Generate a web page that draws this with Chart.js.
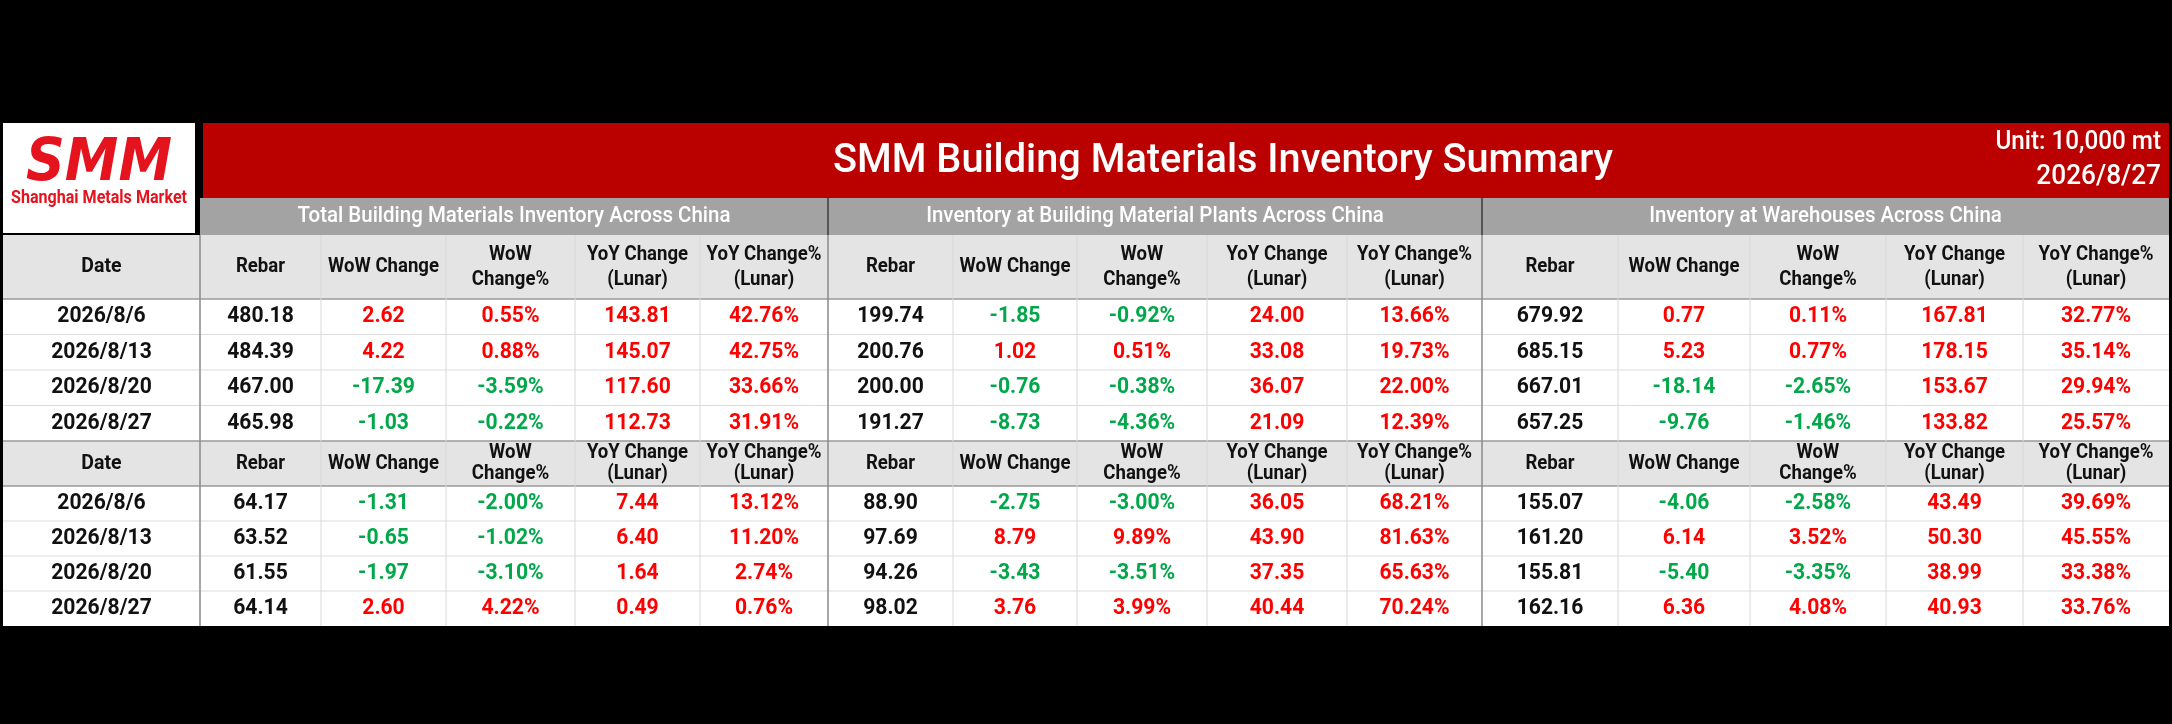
<!DOCTYPE html>
<html>
<head>
<meta charset="utf-8">
<script src="https://cdn.jsdelivr.net/npm/chart.js@4"></script>
<style>
  html, body { margin: 0; padding: 0; background: #000; }
  canvas { display: block; }
</style>
</head>
<body>
<canvas id="inv" width="2172" height="724"></canvas>
<script>
// table content
const title = "SMM Building Materials Inventory Summary";
const unitLabel = "Unit: 10,000 mt";
const reportDate = "2026/8/27";
const groups = [
  "Total Building Materials Inventory Across China",
  "Inventory at Building Material Plants Across China",
  "Inventory at Warehouses Across China"
];
const metrics = ["Rebar", "WoW Change", "WoW\nChange%", "YoY Change\n(Lunar)", "YoY Change%\n(Lunar)"];
const dates = ["2026/8/6", "2026/8/13", "2026/8/20", "2026/8/27"];

// upper block
const totalRebar   = [480.18, 484.39, 467.00, 465.98];
const totalWow     = [2.62, 4.22, -17.39, -1.03];
const totalWowPct  = [0.55, 0.88, -3.59, -0.22];
const totalYoy     = [143.81, 145.07, 117.60, 112.73];
const totalYoyPct  = [42.76, 42.75, 33.66, 31.91];
const plantRebar   = [199.74, 200.76, 200.00, 191.27];
const plantWow     = [-1.85, 1.02, -0.76, -8.73];
const plantWowPct  = [-0.92, 0.51, -0.38, -4.36];
const plantYoy     = [24.00, 33.08, 36.07, 21.09];
const plantYoyPct  = [13.66, 19.73, 22.00, 12.39];
const whRebar      = [679.92, 685.15, 667.01, 657.25];
const whWow        = [0.77, 5.23, -18.14, -9.76];
const whWowPct     = [0.11, 0.77, -2.65, -1.46];
const whYoy        = [167.81, 178.15, 153.67, 133.82];
const whYoyPct     = [32.77, 35.14, 29.94, 25.57];

// lower block
const totalRebar2  = [64.17, 63.52, 61.55, 64.14];
const totalWow2    = [-1.31, -0.65, -1.97, 2.60];
const totalWowPct2 = [-2.00, -1.02, -3.10, 4.22];
const totalYoy2    = [7.44, 6.40, 1.64, 0.49];
const totalYoyPct2 = [13.12, 11.20, 2.74, 0.76];
const plantRebar2  = [88.90, 97.69, 94.26, 98.02];
const plantWow2    = [-2.75, 8.79, -3.43, 3.76];
const plantWowPct2 = [-3.00, 9.89, -3.51, 3.99];
const plantYoy2    = [36.05, 43.90, 37.35, 40.44];
const plantYoyPct2 = [68.21, 81.63, 65.63, 70.24];
const whRebar2     = [155.07, 161.20, 155.81, 162.16];
const whWow2       = [-4.06, 6.14, -5.40, 6.36];
const whWowPct2    = [-2.58, 3.52, -3.35, 4.08];
const whYoy2       = [43.49, 50.30, 38.99, 40.93];
const whYoyPct2    = [39.69, 45.55, 33.38, 33.76];

// layout (column / row sizes in scale units)
const colW = [197, 121, 125, 129, 125, 128, 125, 124, 130, 140, 135, 136, 132, 136, 137, 146];
const rowH = [75, 37, 64, 35.5, 35.5, 35.5, 35.5, 45, 35, 35, 35, 35];
const xEdge = [0]; colW.forEach(w => xEdge.push(xEdge[xEdge.length - 1] + w));
const yEdge = [0]; rowH.forEach(h => yEdge.push(yEdge[yEdge.length - 1] + h));
const midX = i => (xEdge[i] + xEdge[i + 1]) / 2;
const midY = i => (yEdge[i] + yEdge[i + 1]) / 2;

const RED = "#ff0000", GREEN = "#00a84a", INK = "#111";
const F = "Roboto, 'Noto Sans', sans-serif";

function block(cols, firstRow) {
  const pts = [];
  dates.forEach((d, r) => {
    pts.push({ x: midX(0), y: midY(firstRow + r), text: d, color: INK });
    cols.forEach((c, k) => {
      const v = c.vals[r];
      const text = v.toFixed(2) + (c.pct ? "%" : "");
      const color = k % 5 === 0 ? INK : (v < 0 ? GREEN : RED);
      pts.push({ x: midX(k + 1), y: midY(firstRow + r), text, color });
    });
  });
  return pts;
}
const col = (vals, pct) => ({ vals, pct });
const upper = [
  col(totalRebar), col(totalWow), col(totalWowPct, 1), col(totalYoy), col(totalYoyPct, 1),
  col(plantRebar), col(plantWow), col(plantWowPct, 1), col(plantYoy), col(plantYoyPct, 1),
  col(whRebar), col(whWow), col(whWowPct, 1), col(whYoy), col(whYoyPct, 1)
];
const lower = [
  col(totalRebar2), col(totalWow2), col(totalWowPct2, 1), col(totalYoy2), col(totalYoyPct2, 1),
  col(plantRebar2), col(plantWow2), col(plantWowPct2, 1), col(plantYoy2), col(plantYoyPct2, 1),
  col(whRebar2), col(whWow2), col(whWowPct2, 1), col(whYoy2), col(whYoyPct2, 1)
];

function put(ctx, s, x, y, font, color, opt) {
  opt = opt || {};
  ctx.save();
  ctx.font = font;
  ctx.fillStyle = color;
  ctx.textAlign = opt.align || "center";
  ctx.textBaseline = opt.base || "middle";
  let sx = opt.sx || 1;
  if (opt.w) sx = opt.w / ctx.measureText(s).width;
  ctx.translate(x, y);
  ctx.scale(sx, 1);
  ctx.fillText(s, 0, 0);
  ctx.restore();
}

const tablePlugin = {
  id: "table",
  beforeDatasetsDraw(chart) {
    const ctx = chart.ctx, sx = chart.scales.x, sy = chart.scales.y;
    const X = v => sx.getPixelForValue(v), Y = v => sy.getPixelForValue(v);
    const rect = (x0, y0, x1, y1, c) => { ctx.fillStyle = c; ctx.fillRect(X(x0), Y(y0), X(x1) - X(x0), Y(y1) - Y(y0)); };
    const hline = (x0, x1, y, c, w) => { ctx.strokeStyle = c; ctx.lineWidth = w; ctx.beginPath(); ctx.moveTo(X(x0), Y(y)); ctx.lineTo(X(x1), Y(y)); ctx.stroke(); };
    const vline = (x, y0, y1, c, w) => { ctx.strokeStyle = c; ctx.lineWidth = w; ctx.beginPath(); ctx.moveTo(X(x), Y(y0)); ctx.lineTo(X(x), Y(y1)); ctx.stroke(); };
    const right = xEdge[xEdge.length - 1];

    // logo box
    rect(0, yEdge[0], colW[0] - 5, yEdge[2] - 2, "#fff");
    put(ctx, "SMM", X(96), Y(57), "italic bold 58px 'DejaVu Sans'", "#e5131d", { base: "alphabetic", w: 146 });
    put(ctx, "Shanghai Metals Market", X(96), Y(80), "bold 18px " + F, "#e5131d", { base: "alphabetic", w: 176 });

    // red banner
    rect(xEdge[1] + 3, yEdge[0], right, yEdge[1], "#bb0000");
    put(ctx, title, X(1220), Y(midY(0) + 1), "500 40px " + F, "#fff", { w: 780 });
    put(ctx, unitLabel, X(right - 8), Y(20), "500 25px " + F, "#fff", { align: "right", sx: 0.97 });
    put(ctx, reportDate, X(right - 8), Y(54), "500 27px " + F, "#fff", { align: "right", sx: 0.97 });

    // group header
    rect(xEdge[1], yEdge[1], right, yEdge[2], "#a3a3a3");
    groups.forEach((g, i) => {
      put(ctx, g, X((xEdge[1 + i * 5] + xEdge[6 + i * 5]) / 2), Y(midY(1)), "500 22px " + F, "#fff", { sx: 0.93 });
    });
    [6, 11].forEach(i => vline(xEdge[i], yEdge[1], yEdge[2], "#555", 2));

    // header rows and data rows backgrounds
    [2, 7].forEach(r => rect(0, yEdge[r], right, yEdge[r + 1], "#e4e4e4"));
    [3, 8].forEach(r => rect(0, yEdge[r], right, yEdge[r + 4], "#fff"));

    // grid lines
    for (let r = 3; r <= 12; r++) {
      if (r === 3 || r === 7 || r === 8) hline(0, right, yEdge[r], "#9a9a9a", 1.5);
      else if (r < 12) hline(0, right, yEdge[r], "#dcdcdc", 1);
    }
    for (let i = 1; i < xEdge.length - 1; i++) {
      const strong = i === 1 || i === 6 || i === 11;
      vline(xEdge[i], yEdge[2], yEdge[12], strong ? "#8a8a8a" : "#d8d8d8", strong ? 1.5 : 1);
    }

    // column headers
    [2, 7].forEach(r => {
      const yc = midY(r);
      const gap = r === 2 ? 25 : 21;
      put(ctx, "Date", X(midX(0)), Y(yc), "bold 21px " + F, INK, { sx: 0.93 });
      for (let k = 0; k < 15; k++) {
        const lines = metrics[k % 5].split("\n");
        lines.forEach((ln, j) => {
          const yy = yc + (j - (lines.length - 1) / 2) * gap;
          put(ctx, ln, X(midX(k + 1)), Y(yy), "bold 20px " + F, INK, { sx: 0.93 });
        });
      }
    });
  },
  afterDatasetsDraw(chart) {
    const ctx = chart.ctx;
    chart.data.datasets.forEach((ds, i) => {
      chart.getDatasetMeta(i).data.forEach((el, j) => {
        const p = ds.data[j];
        put(ctx, p.text, el.x, el.y, "bold 22px " + F, p.color, { sx: 0.96 });
      });
    });
  }
};

new Chart(document.getElementById("inv"), {
  type: "scatter",
  data: {
    datasets: [
      { label: "upper", data: block(upper, 3), pointRadius: 0 },
      { label: "lower", data: block(lower, 8), pointRadius: 0 }
    ]
  },
  options: {
    responsive: false,
    animation: false,
    devicePixelRatio: 1,
    layout: { padding: { left: 3, right: 3, top: 123, bottom: 724 - 123 - yEdge[yEdge.length - 1] } },
    plugins: { legend: { display: false }, tooltip: { enabled: false } },
    scales: {
      x: { type: "linear", min: 0, max: xEdge[xEdge.length - 1], display: false },
      y: { type: "linear", min: 0, max: yEdge[yEdge.length - 1], reverse: true, display: false }
    }
  },
  plugins: [tablePlugin]
});
</script>
</body>
</html>
